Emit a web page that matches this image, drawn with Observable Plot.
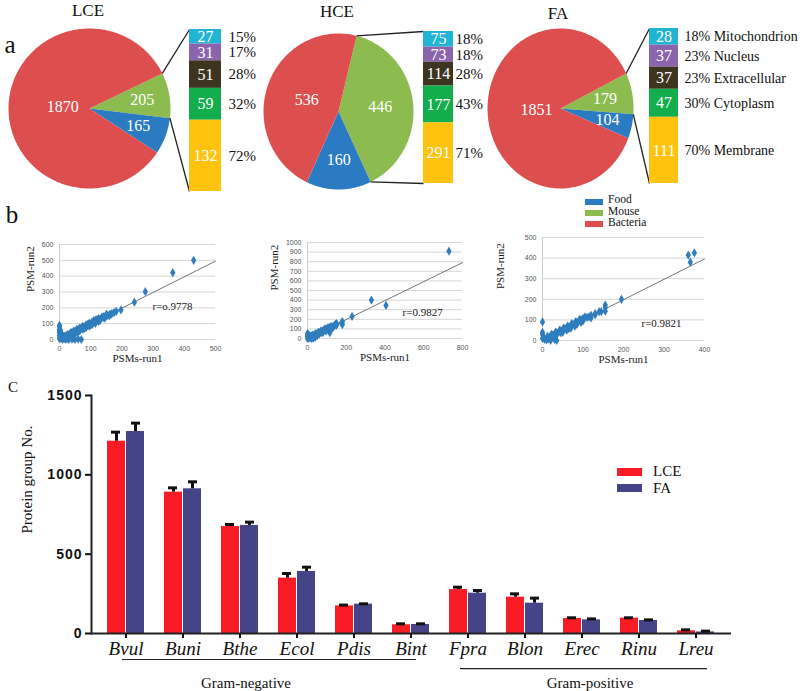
<!DOCTYPE html>
<html><head><meta charset="utf-8">
<script src="https://cdn.jsdelivr.net/npm/d3@7"></script>
<script src="https://cdn.jsdelivr.net/npm/@observablehq/plot@0.6"></script>
<style>
body{margin:0;background:#fff;}
#fig{position:relative;width:800px;height:691px;overflow:hidden;background:#fff;font-family:"Liberation Serif","Times New Roman",serif;color:#111;}
#fig svg text{font-family:"Liberation Serif","Times New Roman",serif;}
#fig svg.scat g[aria-label="x-axis tick label"] text,
#fig svg.scat g[aria-label="y-axis tick label"] text{font-family:"Liberation Sans",Arial,sans-serif;}
#fig svg.barc g[aria-label="y-axis tick label"] text{font-family:"Liberation Sans",Arial,sans-serif;font-weight:bold;letter-spacing:1px;}
.t{position:absolute;white-space:nowrap;line-height:1;transform:translate(-50%,-50%);font-family:"Liberation Serif","Times New Roman",serif;color:#111;}
.tl{position:absolute;white-space:nowrap;line-height:1;transform:translate(0,-50%);font-family:"Liberation Serif","Times New Roman",serif;color:#111;}
.sw{position:absolute;}
</style></head><body><div id="fig"></div>
<script>
// ---------- DATA ----------
const pieParts = ["Mouse", "Food", "Bacteria"];
const pieLCE = [205, 165, 1870];
const pieHCE = [446, 160, 536];
const pieFA = [179, 104, 1851];
const locations = ["Mitochondrion", "Nucleus", "Extracellular", "Cytoplasm", "Membrane"];
const locLCE = [27, 31, 51, 59, 132];
const pctLCE = ["15%", "17%", "28%", "32%", "72%"];
const locHCE = [75, 73, 114, 177, 291];
const pctHCE = ["18%", "18%", "28%", "43%", "71%"];
const locFA = [28, 37, 37, 47, 111];
const pctFA = ["18%", "23%", "23%", "30%", "70%"];

// PSM run1 vs run2 (x, y)
const psmLCE = [[430,500],[363,422],[275,302],[240,236],[197,187],[182,178],[165,160],[160,157],[155,152],[150,147],[140,138],[130,128],[125,122],[120,118],[115,110],[110,108],[105,100],[100,98],[95,92],[90,88],[85,84],[80,78],[75,73],[70,68],[65,62],[60,58],[55,55],[50,47],[45,44],[40,38],[35,34],[30,30],[25,24],[20,20],[15,14],[10,10],[5,5],[110,120],[100,90],[90,95],[80,70],[70,75],[60,65],[50,55],[40,45],[30,22],[20,15],[60,50],[120,125],[140,145],[130,120],[0,90],[0,80],[0,65],[0,55],[0,45],[2,35],[0,25],[1,15],[0,5],[3,60],[5,40],[70,0],[60,2],[50,0],[40,3],[30,0],[20,1],[10,0],[45,8],[25,5],[5,20],[8,28],[12,18],[150,160],[135,140],[125,132],[115,122],[105,112],[95,104],[85,93],[75,83],[65,72],[55,63],[45,52],[35,42],[25,32],[15,22],[145,135],[125,115],[115,102],[105,95],[95,85],[85,75],[75,65],[65,55],[55,45],[45,36],[35,26],[25,16],[15,6],[160,150],[168,163],[175,172]];
const psmHCE = [[730,910],[330,400],[405,345],[230,230],[180,175],[180,145],[175,160],[150,155],[145,150],[135,130],[125,125],[120,120],[115,60],[110,110],[100,100],[95,95],[90,90],[85,88],[80,80],[75,70],[70,72],[65,60],[60,62],[55,55],[50,52],[45,45],[40,40],[35,38],[30,28],[25,25],[20,22],[15,12],[10,10],[5,5],[0,0],[0,50],[0,35],[0,20],[5,40],[10,30],[40,15],[30,5],[20,0],[50,30],[60,45],[80,65],[100,90],[130,110],[140,135],[115,115],[105,110],[90,100],[70,80],[55,65],[40,50],[25,35],[15,25],[120,105],[95,80],[75,60],[45,30],[35,20],[25,10],[150,140]];
const psmFA = [[360,415],[375,425],[365,380],[195,200],[155,172],[155,160],[155,142],[140,140],[130,130],[120,122],[115,115],[110,112],[100,108],[95,100],[90,95],[85,88],[80,82],[75,78],[70,72],[65,65],[60,62],[55,58],[50,52],[45,47],[40,40],[35,38],[30,30],[25,26],[20,20],[15,15],[10,10],[5,5],[0,90],[0,40],[0,30],[2,20],[0,10],[35,0],[30,5],[20,0],[10,3],[25,15],[50,40],[60,50],[70,60],[80,70],[100,95],[120,110],[105,115],[92,103],[82,92],[72,82],[62,70],[52,60],[42,50],[32,40],[22,30],[12,20],[95,88],[85,78],[65,58],[45,38],[35,28],[15,8],[130,125],[145,140]];
const trendLCE = [[0,0],[500,495]];
const trendHCE = [[0,0],[800,790]];
const trendFA = [[0,0],[400,396]];
const rLCE = "r=o.9778", rHCE = "r=0.9827", rFA = "r=0.9821";

// Protein groups per species
const species = ["Bvul","Buni","Bthe","Ecol","Pdis","Bint","Fpra","Blon","Erec","Rinu","Lreu"];
const lceVals = [1212, 891, 674, 349, 174, 55, 277, 229, 95, 97, 17];
const lceErr  = [57, 27, 13, 29, 5, 6, 15, 21, 4, 2, 6];
const faVals  = [1273, 912, 681, 391, 185, 57, 254, 191, 86, 82, 10];
const faErr   = [53, 44, 21, 27, 2, 4, 17, 32, 6, 4, 5];
const yTicksC = [0, 500, 1000, 1500];

// ---------- STYLE ----------
const SERIF = "Liberation Serif";
const partColors = ["#8cbb4f", "#2b7bc3", "#dd4f4f"];
const locColors = ["#22b4d4", "#8c64ad", "#3e3521", "#12ad4c", "#ffc20e"];

const fig = document.getElementById("fig");
function place(el, left, top, cls) { el.style.position = "absolute"; el.style.left = left + "px"; el.style.top = top + "px"; if (cls) el.classList.add(cls); fig.appendChild(el); }
function txt(s, x, y, size, cls = "t", extra = "") { const d = document.createElement("div"); d.className = cls; d.textContent = s; d.style.cssText += `left:${x}px;top:${y}px;font-size:${size}px;${extra}`; fig.appendChild(d); }
function swatch(x, y, w, h, c) { const d = document.createElement("div"); d.className = "sw"; d.style.cssText = `left:${x}px;top:${y}px;width:${w}px;height:${h}px;background:${c}`; fig.appendChild(d); }

// ---------- PANEL A ----------
function piePlot(vals, locVals, pcts, withNames, L) {
  const W = 800, H = 200;
  const X = px => (px - L.cx) / L.rx;
  const Y = py => (L.cy - py) / L.ry;
  const a0 = L.start * Math.PI / 180;
  const arcs = d3.pie().sort(null).startAngle(a0).endAngle(a0 + 2 * Math.PI)(vals);
  const wedges = [], labels = [];
  arcs.forEach((a, i) => {
    const part = pieParts[i];
    wedges.push({part, x: 0, y: 0});
    const n = Math.max(2, Math.ceil((a.endAngle - a.startAngle) / 0.02));
    for (let k = 0; k <= n; k++) {
      const t = a.startAngle + (a.endAngle - a.startAngle) * k / n;
      wedges.push({part, x: Math.sin(t), y: Math.cos(t)});
    }
    wedges.push({part, x: 0, y: 0});
    const m = (a.startAngle + a.endAngle) / 2, r = L.labR[i];
    labels.push({x: r * Math.sin(m), y: r * Math.cos(m), text: String(vals[i])});
  });
  const bx1 = X(L.barX[0]), bx2 = X(L.barX[1]), top = Y(L.barY[0]), bot = Y(L.barY[1]);
  const tot = d3.sum(locVals), cum = d3.cumsum(locVals);
  const segs = locVals.map((v, i) => {
    const y1 = top - (top - bot) * (cum[i] - v) / tot, y2 = top - (top - bot) * cum[i] / tot;
    return {loc: locations[i], value: v, x1: bx1, x2: bx2, y1, y2, xc: (bx1 + bx2) / 2, yc: (y1 + y2) / 2,
            xp: X(L.pctX), pct: withNames ? pcts[i] + " " + locations[i] : pcts[i]};
  });
  const g = arcs[0];
  const conn = [
    {x1: Math.sin(g.startAngle), y1: Math.cos(g.startAngle), x2: bx1, y2: top},
    {x1: Math.sin(g.endAngle), y1: Math.cos(g.endAngle), x2: bx1, y2: bot}
  ];
  const svg = Plot.plot({
    width: W, height: H, margin: 0,
    x: {domain: [X(0), X(W)], range: [0, W], axis: null},
    y: {domain: [Y(H), Y(0)], range: [H, 0], axis: null},
    color: {domain: [...pieParts, ...locations], range: [...partColors, ...locColors]},
    style: {background: "transparent", overflow: "visible"},
    marks: [
      Plot.line(wedges, {x: "x", y: "y", z: "part", fill: "part", stroke: "none", curve: "linear"}),
      Plot.link(conn, {x1: "x1", y1: "y1", x2: "x2", y2: "y2", stroke: "#222", strokeWidth: 1.3}),
      Plot.rect(segs, {x1: "x1", x2: "x2", y1: "y1", y2: "y2", fill: "loc"}),
      Plot.text(labels, {x: "x", y: "y", text: "text", fill: "white", fontSize: 16, fontFamily: SERIF}),
      Plot.text(segs, {x: "xc", y: "yc", text: d => String(d.value), fill: "white", fontSize: 16, fontFamily: SERIF}),
      Plot.text(segs, {x: "xp", y: "yc", text: "pct", textAnchor: "start", fill: "#111", fontSize: L.pctSize, fontFamily: SERIF})
    ]
  });
  place(svg, 0, 0);
}
piePlot(pieLCE, locLCE, pctLCE, false, {cx: 89, cy: 108, rx: 81, ry: 80, start: 64, labR: [0.66, 0.64, 0.33], barX: [189, 221], barY: [29, 191], pctX: 228, pctSize: 15});
piePlot(pieHCE, locHCE, pctHCE, false, {cx: 338, cy: 111, rx: 75, ry: 78, start: 14, labR: [0.56, 0.62, 0.45], barX: [423, 453], barY: [31, 183], pctX: 455, pctSize: 15});
piePlot(pieFA, locFA, pctFA, true, {cx: 560, cy: 108, rx: 73, ry: 80, start: 64, labR: [0.62, 0.66, 0.33], barX: [649, 678], barY: [28, 183], pctX: 684, pctSize: 14});

txt("LCE", 88, 10, 17);
txt("HCE", 337, 11, 17);
txt("FA", 558, 13, 17);
txt("a", 10, 44, 25);
// pie legend (Food, Mouse, Bacteria)
[1, 0, 2].forEach((k, i) => {
  swatch(585, 199 + i * 11, 18, 6, partColors[k]);
  txt(pieParts[k], 608, 200 + i * 11.5, 11.5, "tl");
});

// ---------- PANEL B ----------
txt("b", 12, 214, 25);
function scatter(pts, trend, xd, yd, xt, yt, rText, rAt, L) {
  const svg = Plot.plot({
    width: L.w, height: L.h, marginLeft: L.ml, marginRight: L.mr, marginTop: L.mt, marginBottom: L.mb,
    x: {domain: xd}, y: {domain: yd},
    style: {background: "transparent", overflow: "visible"},
    marks: [
      Plot.gridY(yt, {stroke: "#d6d6d6", strokeOpacity: 1}),
      Plot.ruleX([0], {stroke: "#cfcfcf"}),
      Plot.line(trend, {x: d => d[0], y: d => d[1], stroke: "#666", strokeWidth: 0.9}),
      Plot.dot(pts, {x: d => d[0], y: d => d[1], symbol: "diamond", fill: "#2f7dbd", r: 2.8}),
      Plot.axisX(xt, {tickSize: 0, tickPadding: 7, fontSize: 7, color: "#555", label: null, tickFormat: d => String(d)}),
      Plot.axisY(yt, {tickSize: 0, tickPadding: 6, fontSize: 7, color: "#555", label: null, tickFormat: d => String(d)}),
      Plot.text([rText], {x: rAt[0], y: rAt[1], fontSize: 11, fill: "#222"}),
      Plot.text(["PSMs-run1"], {frameAnchor: "bottom", dy: 22, fontSize: 11, fill: "#222"}),
      Plot.text(["PSM-run2"], {frameAnchor: "left", rotate: -90, dx: L.ylab, fontSize: 11, fill: "#222"})
    ]
  });
  place(svg, L.left, L.top, "scat");
}
scatter(psmLCE, trendLCE, [0, 500], [0, 600], d3.range(0, 501, 100), d3.range(0, 601, 100), rLCE, [362, 208],
  {left: 0, top: 234, w: 235, h: 136, ml: 59, mr: 20, mt: 10, mb: 31, ylab: -29});
scatter(psmHCE, trendHCE, [0, 800], [0, 1000], d3.range(0, 801, 200), d3.range(0, 1001, 100), rHCE, [594, 270],
  {left: 262, top: 232, w: 215, h: 138, ml: 45, mr: 15, mt: 10, mb: 32, ylab: -33});
scatter(psmFA, trendFA, [0, 400], [0, 500], d3.range(0, 401, 100), d3.range(0, 501, 100), rFA, [294, 83],
  {left: 490, top: 227, w: 230, h: 143, ml: 52, mr: 16, mt: 10, mb: 30, ylab: -42});

// ---------- PANEL C ----------
txt("C", 13, 387, 15);
const rows = species.map((s, i) => ({species: s, lce: lceVals[i], lceTop: lceVals[i] + lceErr[i], fa: faVals[i], faTop: faVals[i] + faErr[i]}));
const svgC = Plot.plot({
  width: 800, height: 311, marginLeft: 91, marginRight: 69, marginTop: 15, marginBottom: 58,
  x: {domain: species, paddingInner: 0.344, paddingOuter: 0.19},
  y: {domain: [0, 1500]},
  style: {background: "transparent", overflow: "visible"},
  marks: [
    Plot.barY(rows, {x: "species", y: "lce", fill: "#f91c24", insetRight: 19}),
    Plot.barY(rows, {x: "species", y: "fa", fill: "#464488", insetLeft: 19}),
    Plot.ruleX(rows, {x: "species", y1: "lce", y2: "lceTop", dx: -9.5, stroke: "#111", strokeWidth: 3}),
    Plot.tickY(rows, {x: "species", y: "lceTop", insetLeft: 4, insetRight: 24, stroke: "#111", strokeWidth: 3}),
    Plot.ruleX(rows, {x: "species", y1: "fa", y2: "faTop", dx: 9.5, stroke: "#111", strokeWidth: 3}),
    Plot.tickY(rows, {x: "species", y: "faTop", insetLeft: 24, insetRight: 4, stroke: "#111", strokeWidth: 3}),
    Plot.ruleY([0], {stroke: "#222", strokeWidth: 2}),
    Plot.frame({anchor: "left", stroke: "#222", strokeWidth: 2}),
    Plot.axisY(yTicksC, {tickSize: 6, tickPadding: 3, fontSize: 14, strokeWidth: 2, color: "#111", label: null, tickFormat: d => String(d)}),
    Plot.axisX({tickSize: 5, tickPadding: 3, fontSize: 19, fontStyle: "italic", strokeWidth: 2, color: "#111", label: null}),
    Plot.ruleY([-164], {x1: () => "Bvul", x2: () => "Bint", insetLeft: 15, insetRight: 13, stroke: "#222", strokeWidth: 1.2}),
    Plot.ruleY([-221], {x1: () => "Fpra", x2: () => "Lreu", insetLeft: 11, insetRight: 7, stroke: "#222", strokeWidth: 1.2}),
    Plot.text(["Gram-negative"], {x: () => "Bthe", y: () => -315, dx: 6, fontSize: 15, fill: "#111"}),
    Plot.text(["Gram-positive"], {x: () => "Erec", y: () => -315, dx: 8, fontSize: 15, fill: "#111"}),
    Plot.text(["Protein group No."], {frameAnchor: "left", rotate: -90, dx: -64, dy: 19, fontSize: 15, fill: "#111"})
  ]
});
place(svgC, 0, 380, "barc");
swatch(617, 468, 25, 8, "#f91c24");
swatch(617, 484, 25, 8, "#464488");
txt("LCE", 653, 471, 15, "tl");
txt("FA", 653, 488, 15, "tl");
</script></body></html>
